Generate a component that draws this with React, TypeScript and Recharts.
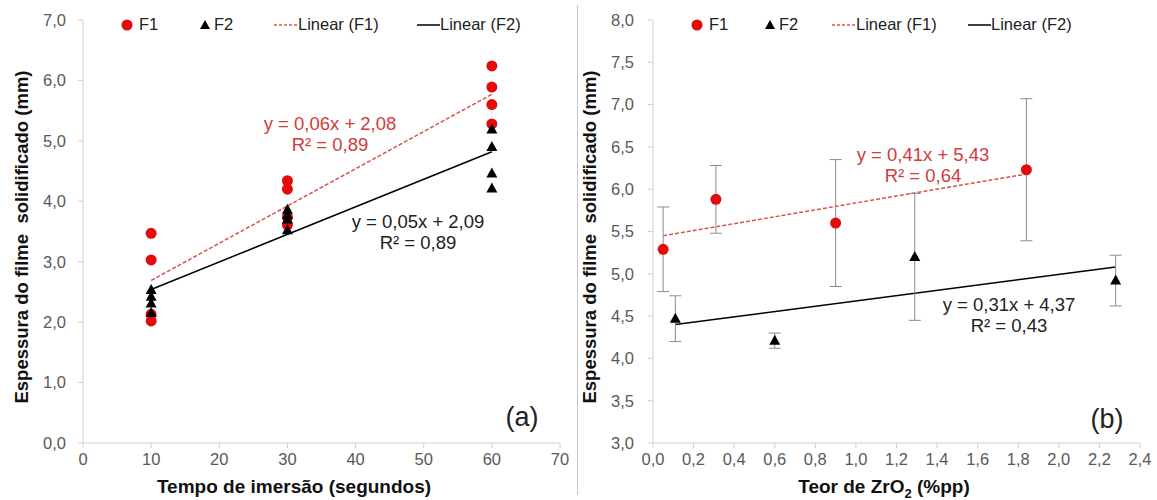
import React from 'react';
import { ScatterChart, Scatter, XAxis, YAxis, ReferenceLine, ErrorBar } from 'recharts';

// (a) espessura x tempo de imersão
const tempoF1 = [10, 10, 10, 10, 30, 30, 30, 30, 60, 60, 60, 60];
const espF1 = [3.47, 3.03, 2.13, 2.02, 4.34, 4.20, 3.74, 3.61, 6.24, 5.89, 5.60, 5.28];
const tempoF2 = [10, 10, 10, 10, 30, 30, 30, 30, 60, 60, 60, 60];
const espF2 = [2.53, 2.42, 2.31, 2.15, 3.86, 3.77, 3.70, 3.52, 5.19, 4.90, 4.46, 4.21];
const trendTempoX = [10, 60];
const trendTempoF1 = [2.69, 5.77];
const trendTempoF2 = [2.54, 4.82];

// (b) espessura x teor de ZrO2
const teorF1 = [0.05, 0.31, 0.9, 1.84];
const espTeorF1 = [5.29, 5.88, 5.6, 6.23];
const errTeorF1 = [0.5, 0.4, 0.75, 0.84];
const teorF2 = [0.11, 0.6, 1.29, 2.28];
const espTeorF2 = [4.47, 4.21, 5.2, 4.92];
const errTeorF2 = [0.27, 0.09, 0.75, 0.3];
const trendTeorF1X = [0.05, 1.84];
const trendTeorF1 = [5.45, 6.18];
const trendTeorF2X = [0.11, 2.28];
const trendTeorF2 = [4.4, 5.08];

const ticksTempo = [0, 10, 20, 30, 40, 50, 60, 70];
const ticksEspA = [0, 1, 2, 3, 4, 5, 6, 7];
const ticksTeor = [0, 0.2, 0.4, 0.6, 0.8, 1.0, 1.2, 1.4, 1.6, 1.8, 2.0, 2.2, 2.4];
const ticksEspB = [3, 3.5, 4, 4.5, 5, 5.5, 6, 6.5, 7, 7.5, 8];

const FONT = '"Liberation Sans", Arial, sans-serif';
const RED = '#e30b0b';
const RED_LINE = '#d9534f';
const RED_TEXT = '#d13b3b';
const AXIS = '#d0d0d0';
const TICK = '#595959';

const fmt1 = (v: number) => v.toFixed(1).replace('.', ',');

const pts = (xs: number[], ys: number[], errs?: number[]) =>
  xs.map((x, i) => ({ x, y: ys[i], err: errs ? errs[i] : 0 }));

const Dot = (p: any) => <circle cx={p.cx} cy={p.cy} r={5.5} fill={RED} />;
const Tri = (p: any) => (
  <polygon points={`${p.cx},${p.cy - 6} ${p.cx - 5.5},${p.cy + 4} ${p.cx + 5.5},${p.cy + 4}`} fill="#000" />
);

const tickStyle = { fill: TICK, fontSize: 16.5, fontFamily: FONT };

const Legend = ({ dot, tri, dash, solid }: { dot: number; tri: number; dash: number; solid: number }) => {
  const txt: React.CSSProperties = { position: 'absolute', top: 15, fontSize: 16.5, fontFamily: FONT, color: '#222', whiteSpace: 'nowrap' };
  return (
    <>
      <svg style={{ position: 'absolute', left: 0, top: 0, overflow: 'visible' }} width={1} height={1}>
        <circle cx={dot} cy={25} r={5.5} fill={RED} />
        <polygon points={`${tri},${20} ${tri - 5},${29} ${tri + 5},${29}`} fill="#000" />
        <line x1={dash} x2={dash + 23} y1={25} y2={25} stroke={RED_LINE} strokeWidth={1.5} strokeDasharray="3 2" />
        <line x1={solid} x2={solid + 23} y1={25} y2={25} stroke="#000" strokeWidth={1.5} />
      </svg>
      <div style={{ ...txt, left: dot + 12 }}>F1</div>
      <div style={{ ...txt, left: tri + 9 }}>F2</div>
      <div style={{ ...txt, left: dash + 24 }}>Linear (F1)</div>
      <div style={{ ...txt, left: solid + 23 }}>Linear (F2)</div>
    </>
  );
};

const Eq = ({ x, y, color, l1, l2 }: { x: number; y: number; color: string; l1: string; l2: string }) => (
  <div style={{ position: 'absolute', left: x - 100, top: y - 11, width: 200, textAlign: 'center', fontFamily: FONT, fontSize: 18.5, lineHeight: '21px', color }}>
    <div>{l1}</div>
    <div>{l2}</div>
  </div>
);

const YTitle = ({ x, y }: { x: number; y: number }) => (
  <div style={{ position: 'absolute', left: x - 200, top: y - 12, width: 400, textAlign: 'center', transform: 'rotate(-90deg)', fontFamily: FONT, fontWeight: 'bold', fontSize: 18.5, color: '#111', whiteSpace: 'pre' }}>
    Espessura do filme  solidificado (mm)
  </div>
);

const Title = ({ x, y, children }: { x: number; y: number; children: React.ReactNode }) => (
  <div style={{ position: 'absolute', left: x - 200, top: y - 12, width: 400, textAlign: 'center', fontFamily: FONT, fontWeight: 'bold', fontSize: 19, lineHeight: '22px', color: '#111' }}>
    {children}
  </div>
);

const Panel = ({ x, y, t }: { x: number; y: number; t: string }) => (
  <div style={{ position: 'absolute', left: x - 30, top: y - 16, width: 60, textAlign: 'center', fontFamily: FONT, fontSize: 27, color: '#222' }}>{t}</div>
);

export default function App() {
  return (
    <div style={{ position: 'absolute', left: 0, top: 0, width: 1157, height: 500, background: '#fff', fontFamily: FONT }}>
      <div style={{ position: 'absolute', left: 0, top: 0 }}>
        <ScatterChart width={578} height={500} margin={{ top: 20, right: 18, bottom: 27, left: 0 }}>
          <XAxis type="number" dataKey="x" domain={[0, 70]} ticks={ticksTempo} height={30}
            axisLine={{ stroke: AXIS }} tickLine={{ stroke: AXIS }} tickSize={5} tickMargin={5} tick={tickStyle} />
          <YAxis type="number" dataKey="y" domain={[0, 7]} ticks={ticksEspA} width={83} tickFormatter={fmt1}
            axisLine={{ stroke: AXIS }} tickLine={{ stroke: AXIS }} tickSize={5} tickMargin={12} tick={tickStyle} />
          <ReferenceLine segment={[{ x: trendTempoX[0], y: trendTempoF1[0] }, { x: trendTempoX[1], y: trendTempoF1[1] }]}
            stroke={RED_LINE} strokeWidth={1.5} strokeDasharray="4 2" />
          <ReferenceLine segment={[{ x: trendTempoX[0], y: trendTempoF2[0] }, { x: trendTempoX[1], y: trendTempoF2[1] }]}
            stroke="#000" strokeWidth={1.5} />
          <Scatter name="F1" data={pts(tempoF1, espF1)} shape={Dot} isAnimationActive={false} />
          <Scatter name="F2" data={pts(tempoF2, espF2)} shape={Tri} isAnimationActive={false} />
        </ScatterChart>
      </div>
      <div style={{ position: 'absolute', left: 578, top: 0 }}>
        <ScatterChart width={579} height={500} margin={{ top: 20, right: 17, bottom: 27, left: 0 }}>
          <XAxis type="number" dataKey="x" domain={[0, 2.4]} ticks={ticksTeor} height={30} tickFormatter={fmt1}
            axisLine={{ stroke: AXIS }} tickLine={{ stroke: AXIS }} tickSize={5} tickMargin={5} tick={tickStyle} />
          <YAxis type="number" dataKey="y" domain={[3, 8]} ticks={ticksEspB} width={75} tickFormatter={fmt1}
            axisLine={{ stroke: AXIS }} tickLine={{ stroke: AXIS }} tickSize={5} tickMargin={14} tick={tickStyle} />
          <ReferenceLine segment={[{ x: trendTeorF1X[0], y: trendTeorF1[0] }, { x: trendTeorF1X[1], y: trendTeorF1[1] }]}
            stroke={RED_LINE} strokeWidth={1.5} strokeDasharray="4 2" />
          <ReferenceLine segment={[{ x: trendTeorF2X[0], y: trendTeorF2[0] }, { x: trendTeorF2X[1], y: trendTeorF2[1] }]}
            stroke="#000" strokeWidth={1.5} />
          <Scatter name="F1" data={pts(teorF1, espTeorF1, errTeorF1)} shape={Dot} isAnimationActive={false}>
            <ErrorBar dataKey="err" direction="y" width={6} stroke="#8c8c8c" strokeWidth={1} />
          </Scatter>
          <Scatter name="F2" data={pts(teorF2, espTeorF2, errTeorF2)} shape={Tri} isAnimationActive={false}>
            <ErrorBar dataKey="err" direction="y" width={6} stroke="#8c8c8c" strokeWidth={1} />
          </Scatter>
        </ScatterChart>
      </div>

      <div style={{ position: 'absolute', left: 577, top: 5, width: 1, height: 490, background: '#c8c8c8' }} />

      <Legend dot={127} tri={205} dash={274} solid={417} />
      <Legend dot={697} tri={770} dash={832} solid={968} />

      <Eq x={330} y={124} color={RED_TEXT} l1="y = 0,06x + 2,08" l2="R² = 0,89" />
      <Eq x={418} y={222} color="#222" l1="y = 0,05x + 2,09" l2="R² = 0,89" />
      <Eq x={923} y={155} color={RED_TEXT} l1="y = 0,41x + 5,43" l2="R² = 0,64" />
      <Eq x={1009} y={305} color="#222" l1="y = 0,31x + 4,37" l2="R² = 0,43" />

      <Panel x={522} y={418} t="(a)" />
      <Panel x={1107} y={420} t="(b)" />

      <YTitle x={22} y={238} />
      <YTitle x={590} y={238} />
      <Title x={294} y={488}>Tempo de imersão (segundos)</Title>
      <Title x={884} y={488}>Teor de ZrO<sub style={{ fontSize: 13, lineHeight: 0 }}>2</sub> (%pp)</Title>
    </div>
  );
}
